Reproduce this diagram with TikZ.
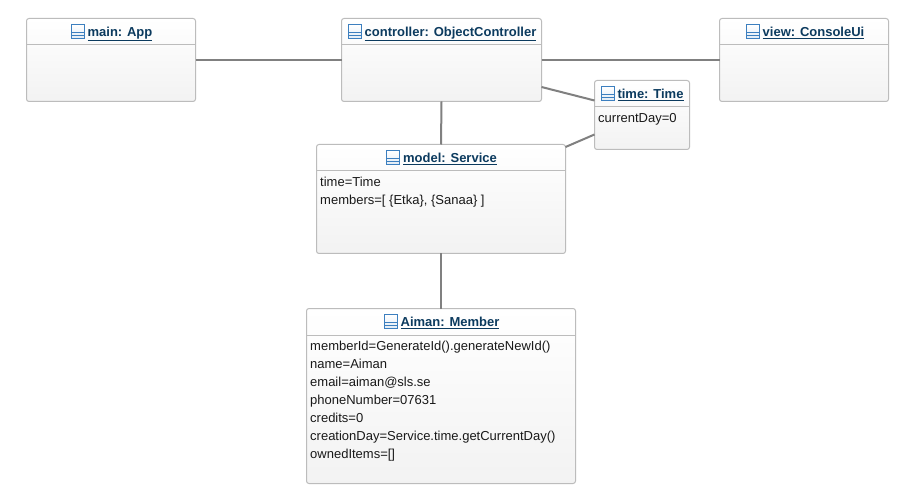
\documentclass[tikz,border=0pt]{standalone}
\usepackage{fontspec}
\setmainfont{Liberation Sans}
\usetikzlibrary{calc}
\definecolor{boxedge}{HTML}{BCBCBC}
\definecolor{linkgrey}{HTML}{808080}
\definecolor{titleblue}{HTML}{0B3A5E}
\definecolor{iconblue}{HTML}{3C7FBF}
\tikzset{
  x=1pt,y=-1pt,
  objbox/.style={draw=boxedge,line width=1pt,rounded corners=2.5pt,top color=white,bottom color=black!5,
    minimum width=#1,inner sep=0pt,outer sep=0pt,anchor=north west},
  objtitle/.style={inner sep=0pt,font=\fontsize{13}{15}\selectfont\bfseries,text=titleblue,anchor=base},
  attrs/.style={inner sep=0pt,anchor=north west,align=left,font=\fontsize{13}{18}\selectfont,text=black!90},
  link/.style={draw=linkgrey,line width=2pt},
  sep/.style={draw=boxedge,line width=1pt},
  pics/objicon/.style={code={
    \draw[iconblue,line width=1pt,top color=white,bottom color=iconblue!15] (-13,-12) rectangle (0,2);
    \draw[iconblue,line width=1pt] (-13,-4) -- (0,-4) (-13,-1) -- (0,-1);
  }}
}
\newcommand{\ttl}[1]{\underline{#1}}
\begin{document}
\begin{tikzpicture}
\useasboundingbox[fill=white] (0,0) rectangle (917,502);
% boxes
\node[objbox=169,minimum height=83] (main) at (26.5,18.5) {};
\node[objbox=200,minimum height=83] (controller) at (341.5,18.5) {};
\node[objbox=169,minimum height=83] (view) at (719.5,18.5) {};
\node[objbox=95,minimum height=69] (time) at (594.5,80.5) {};
\node[objbox=249,minimum height=109] (service) at (316.5,144.5) {};
\node[objbox=269,minimum height=175] (member) at (306.5,308.5) {};
% connectors
\draw[link] (main.east) -- (controller.west);
\draw[link] (controller.east) -- (view.west);
\draw[link] (controller.south) -- (service.north);
\draw[link] (service.south) -- (member.north);
\draw[link] ([yshift=-27pt]controller.east) -- ([yshift=14.5pt]time.west);
\draw[link] ([yshift=-2.5pt]service.north east) -- ([yshift=-19.5pt]time.west);
% separators
\draw[sep] ([yshift=-26.5pt]main.north west) -- ([yshift=-26.5pt]main.north east);
\draw[sep] ([yshift=-26.5pt]controller.north west) -- ([yshift=-26.5pt]controller.north east);
\draw[sep] ([yshift=-26.5pt]view.north west) -- ([yshift=-26.5pt]view.north east);
\draw[sep] ([yshift=-26.5pt]time.north west) -- ([yshift=-26.5pt]time.north east);
\draw[sep] ([yshift=-26.5pt]service.north west) -- ([yshift=-26.5pt]service.north east);
\draw[sep] ([yshift=-26.5pt]member.north west) -- ([yshift=-26.5pt]member.north east);
% titles
\node[objtitle] (t1) at (120,36.5) {\ttl{main: App}};
\node[objtitle] (t2) at (450.5,36.5) {\ttl{controller: ObjectController}};
\node[objtitle] (t3) at (813.5,36.5) {\ttl{view: ConsoleUi}};
\node[objtitle] (t4) at (650.5,98.5) {\ttl{time: Time}};
\node[objtitle] (t5) at (450,162.5) {\ttl{model: Service}};
\node[objtitle] (t6) at (450,326.5) {\ttl{Aiman: Member}};
% icons
\pic at (t1.base west) [xshift=-3pt] {objicon};
\pic at (t2.base west) [xshift=-3pt] {objicon};
\pic at (t3.base west) [xshift=-3pt] {objicon};
\pic at (t4.base west) [xshift=-3pt] {objicon};
\pic at (t5.base west) [xshift=-3pt] {objicon};
\pic at (t6.base west) [xshift=-3pt] {objicon};
% attributes
\node[attrs] (a4) at (598,113) {currentDay=0};
\node[attrs] (a5) at (320,177) {time=Time\\members=[ \{Etka\}, \{Sanaa\} ]};
\node[attrs] (a6) at (310,341) {memberId=GenerateId().generateNewId()\\name=Aiman\\email=aiman@sls.se\\phoneNumber=07631\\credits=0\\creationDay=Service.time.getCurrentDay()\\ownedItems=[]};
\end{tikzpicture}
\end{document}
